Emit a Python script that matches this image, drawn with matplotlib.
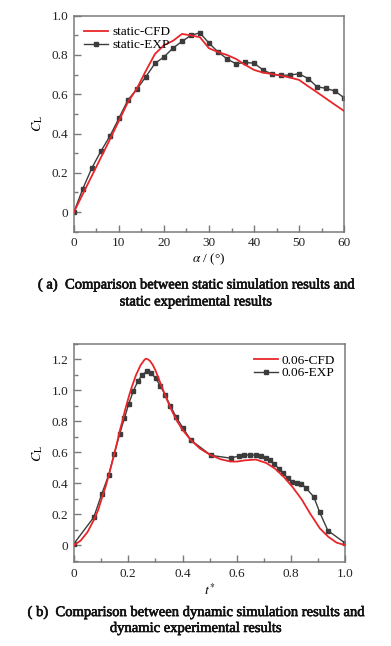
import matplotlib
matplotlib.use("Agg")
import matplotlib.pyplot as plt
import matplotlib.patheffects as pe
from matplotlib.ticker import MultipleLocator

plt.rcParams['font.family'] = ['Liberation Serif', 'DejaVu Serif']
plt.rcParams['mathtext.fontset'] = 'stix'

# (a) static
alpha = [0, 2, 4, 6, 8, 10, 12, 14, 16, 18, 20, 22, 24, 26, 28, 30,
         32, 34, 36, 38, 40, 42, 44, 46, 48, 50, 52, 54, 56, 58, 60]
static_cfd = [0.0, 0.093, 0.185, 0.278, 0.37, 0.465, 0.56, 0.63, 0.72, 0.805,
              0.85, 0.872, 0.907, 0.90, 0.89, 0.834, 0.815, 0.80, 0.78, 0.75,
              0.724, 0.71, 0.703, 0.695, 0.685, 0.673, 0.641, 0.61, 0.578, 0.546, 0.515]
static_exp = [0.0, 0.12, 0.225, 0.31, 0.387, 0.478, 0.571, 0.626, 0.69, 0.757,
              0.79, 0.835, 0.869, 0.90, 0.913, 0.86, 0.816, 0.78, 0.755, 0.762,
              0.758, 0.724, 0.702, 0.696, 0.698, 0.704, 0.68, 0.638, 0.63, 0.616, 0.582]

# (b) dynamic
t_cfd = [0.0, 0.025, 0.05, 0.074, 0.09, 0.104, 0.117, 0.129, 0.14, 0.15, 0.16,
         0.169, 0.18, 0.188, 0.196, 0.204, 0.212, 0.221, 0.229, 0.237, 0.245,
         0.253, 0.259, 0.265, 0.272, 0.28, 0.29, 0.3, 0.31, 0.32, 0.33, 0.34,
         0.35, 0.36, 0.38, 0.40, 0.43, 0.464, 0.5, 0.54, 0.577, 0.60, 0.63,
         0.67, 0.708, 0.74, 0.773, 0.805, 0.839, 0.87, 0.906, 0.937, 0.967, 1.0]
dyn_cfd = [0.0, 0.03, 0.085, 0.165, 0.23, 0.31, 0.38, 0.455, 0.53, 0.60, 0.67,
           0.74, 0.81, 0.87, 0.92, 0.97, 1.015, 1.06, 1.10, 1.13, 1.16,
           1.18, 1.195, 1.204, 1.20, 1.19, 1.165, 1.13, 1.085, 1.04, 0.995, 0.95,
           0.91, 0.87, 0.80, 0.745, 0.68, 0.624, 0.585, 0.555, 0.54, 0.54, 0.548,
           0.553, 0.531, 0.495, 0.441, 0.376, 0.295, 0.204, 0.108, 0.054, 0.017, 0.0]
t_exp = [0.0, 0.073, 0.102, 0.128, 0.148, 0.168, 0.186, 0.202, 0.219, 0.236,
         0.252, 0.268, 0.284, 0.301, 0.318, 0.336, 0.355, 0.376, 0.401, 0.431,
         0.505, 0.577, 0.607, 0.628, 0.649, 0.67, 0.69, 0.706, 0.722, 0.738,
         0.754, 0.771, 0.788, 0.804, 0.821, 0.838, 0.855, 0.883, 0.905, 0.935, 1.0]
dyn_exp = [0.01, 0.18, 0.328, 0.453, 0.586, 0.715, 0.82, 0.913, 0.996, 1.06,
           1.10, 1.122, 1.112, 1.077, 1.03, 0.97, 0.90, 0.829, 0.758, 0.678,
           0.58, 0.562, 0.576, 0.582, 0.582, 0.582, 0.573, 0.564, 0.548, 0.524,
           0.495, 0.463, 0.432, 0.407, 0.401, 0.397, 0.368, 0.313, 0.213, 0.095, 0.012]

RED = '#e8262a'
DARK = '#3c3c3c'
SPINE = '#7a7a7a'


def zero_fmt(v, p):
    return '0' if abs(v) < 1e-9 else f'{v:.1f}'


def style_axes(ax):
    for s in ax.spines.values():
        s.set_color(SPINE)
        s.set_linewidth(1.1)
    ax.tick_params(which='both', direction='in', top=False, right=False,
                   color=SPINE, labelsize=9.5, width=1.0, labelcolor='#222222')
    ax.tick_params(which='major', length=5, pad=4)
    ax.tick_params(which='minor', length=3)
    ax.yaxis.set_major_formatter(plt.FuncFormatter(zero_fmt))


fig = plt.figure(figsize=(3.91, 6.46), dpi=100)

# 上图
ax1 = fig.add_axes([0.189, 0.6413, 0.691, 0.3344])
ax1.plot(alpha, static_cfd, color=RED, lw=1.3, label='static-CFD', zorder=3)
ax1.plot(alpha, static_exp, color=DARK, lw=1.0, marker='s', ms=3.3,
         label='static-EXP', zorder=2)
ax1.set_xlim(0, 60)
ax1.set_ylim(-0.1, 1.0)
ax1.xaxis.set_major_locator(MultipleLocator(10))
ax1.xaxis.set_minor_locator(MultipleLocator(5))
ax1.yaxis.set_major_locator(MultipleLocator(0.2))
ax1.yaxis.set_minor_locator(MultipleLocator(0.1))
style_axes(ax1)
ax1.set_xlabel(r'$\alpha$ / (°)', fontsize=9.5, labelpad=2)
ax1.set_ylabel(r'$C_{\rm L}$', fontsize=10, labelpad=5)
ax1.legend(loc='upper left', frameon=False, fontsize=9.5, handlelength=1.8,
           handletextpad=0.3, labelspacing=0.05, borderaxespad=0.5,
           borderpad=0.3)

# 下图
ax2 = fig.add_axes([0.189, 0.1296, 0.6946, 0.3382])
ax2.plot(t_cfd, dyn_cfd, color=RED, lw=1.3, label='0.06-CFD', zorder=3)
ax2.plot(t_exp, dyn_exp, color=DARK, lw=1.0, marker='s', ms=3.3,
         label='0.06-EXP', zorder=2)
ax2.set_xlim(0, 1.0)
ax2.set_ylim(-0.11, 1.3)
ax2.xaxis.set_major_locator(MultipleLocator(0.2))
ax2.xaxis.set_minor_locator(MultipleLocator(0.1))
ax2.yaxis.set_major_locator(MultipleLocator(0.2))
ax2.yaxis.set_minor_locator(MultipleLocator(0.1))
style_axes(ax2)
ax2.xaxis.set_major_formatter(plt.FuncFormatter(zero_fmt))
ax2.set_xlabel(r'$t^{*}$', fontsize=10, labelpad=2)
ax2.set_ylabel(r'$C_{\rm L}$', fontsize=10, labelpad=5)
ax2.legend(loc='upper right', frameon=False, fontsize=9.5, handlelength=1.8,
           handletextpad=0.3, labelspacing=0.05, borderaxespad=0.5,
           borderpad=0.3)

# 图注
heavy = [pe.withStroke(linewidth=0.45, foreground='#111111')]
cap = dict(ha='center', va='center', fontsize=10.5, color='#111111',
           path_effects=heavy)
fig.text(0.5, 1 - 285 / 646, '( a)  Comparison between static simulation results and', **cap)
fig.text(0.5, 1 - 302 / 646, 'static experimental results', **cap)
fig.text(0.5, 1 - 612.5 / 646, '( b)  Comparison between dynamic simulation results and', **cap)
fig.text(0.5, 1 - 628.5 / 646, 'dynamic experimental results', **cap)

fig.savefig('out.png', dpi=100)
